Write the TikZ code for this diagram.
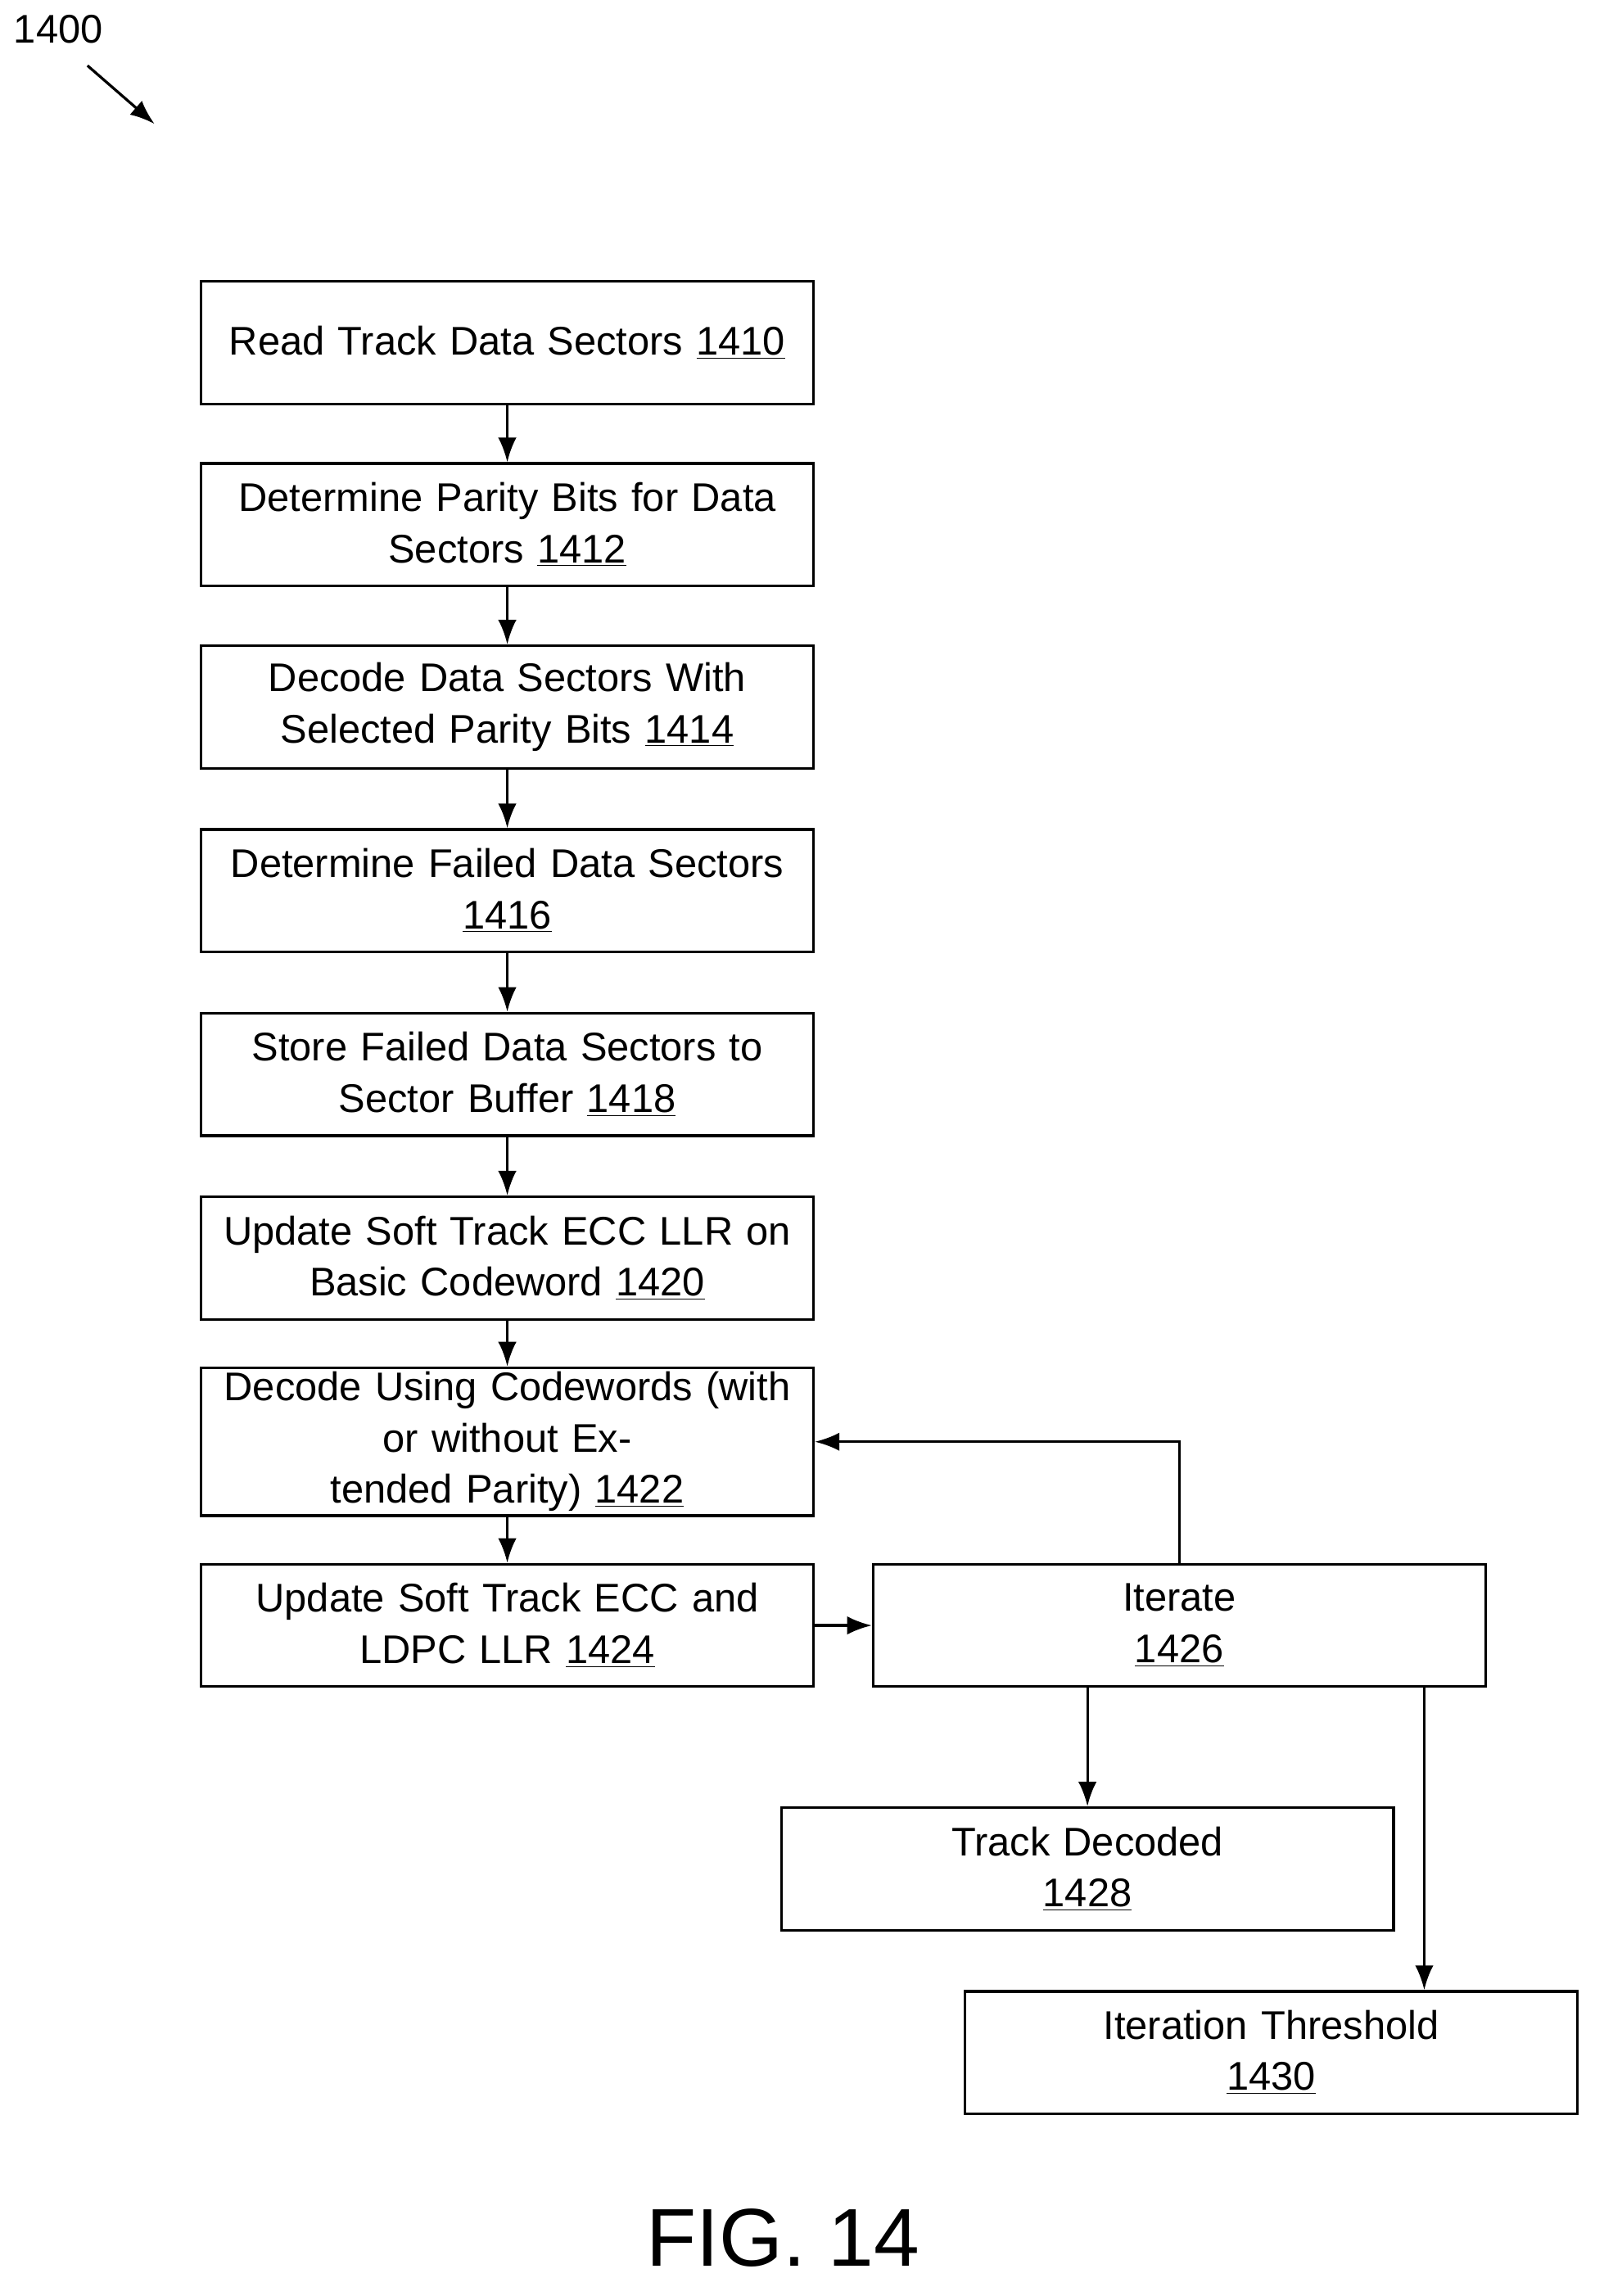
\documentclass[tikz,border=0pt]{standalone}
\usepackage{fontspec}
\setmainfont{Liberation Sans}
\usetikzlibrary{arrows.meta, positioning}

\begin{document}
\begin{tikzpicture}[
  x=0.025cm, y=-0.025cm,
  every node/.style={font=\fontsize{19.5}{25}\selectfont},
  stepbox/.style={draw, line width=1.3pt, minimum width=10.5cm, minimum height=2.1cm, text width=10cm, align=center, inner sep=2pt},
  flow/.style={draw, line width=1.3pt, -{Latex[length=12pt,width=9pt]}}
]
\useasboundingbox (0,0) rectangle (1100,1575);
\node (ref) at (40,20) {1400};
\coordinate (refa) at (60,45);
\coordinate (refb) at (106,85);
\draw[flow] (refa) -- (refb);

\node[stepbox] (s1410) at (348,235) {Read Track Data Sectors \underline{1410}};
\node[stepbox] (s1412) at (348,360) {Determine Parity Bits for Data\\Sectors \underline{1412}};
\node[stepbox] (s1414) at (348,485) {Decode Data Sectors With\\Selected Parity Bits \underline{1414}};
\node[stepbox] (s1416) at (348,611) {Determine Failed Data Sectors\\\underline{1416}};
\node[stepbox] (s1418) at (348,737) {Store Failed Data Sectors to\\Sector Buffer \underline{1418}};
\node[stepbox] (s1420) at (348,863) {Update Soft Track ECC LLR on\\Basic Codeword \underline{1420}};
\node[stepbox] (s1422) at (348,989) {Decode Using Codewords (with\\or without Extended Parity) \underline{1422}};
\node[stepbox] (s1424) at (348,1115) {Update Soft Track ECC and\\LDPC LLR \underline{1424}};
\node[stepbox] (s1426) at (809,1115) {Iterate\\\underline{1426}};
\node[stepbox] (s1428) at (746,1282) {Track Decoded\\\underline{1428}};
\node[stepbox] (s1430) at (872,1408) {Iteration Threshold\\\underline{1430}};

\draw[flow] (s1410) -- (s1412);
\draw[flow] (s1412) -- (s1414);
\draw[flow] (s1414) -- (s1416);
\draw[flow] (s1416) -- (s1418);
\draw[flow] (s1418) -- (s1420);
\draw[flow] (s1420) -- (s1422);
\draw[flow] (s1422) -- (s1424);
\draw[flow] (s1424) -- (s1426);
\draw[flow] (s1426.north) |- (s1422.east);
\draw[flow] (s1426.south -| s1428.north) -- (s1428.north);
\draw[flow] ([xshift=4.2cm]s1426.south) -- ([xshift=4.2cm]s1426.south |- s1430.north);

\node[font=\fontsize{40}{48}\selectfont] (fig) at (537,1535) {FIG. 14};
\end{tikzpicture}
\end{document}
